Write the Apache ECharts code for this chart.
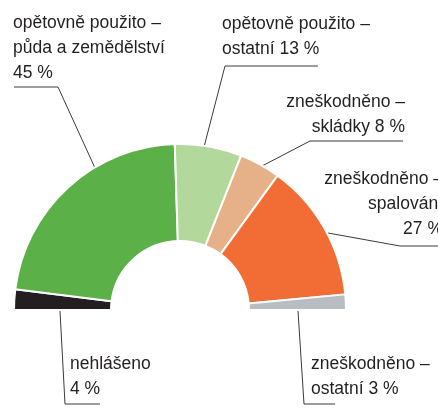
<!DOCTYPE html>
<html>
<head>
<meta charset="utf-8">
<script src="https://cdn.jsdelivr.net/npm/echarts@6/dist/echarts.min.js"></script>
<style>
  html, body { margin: 0; padding: 0; background: #fff; }
  #chart { width: 438px; height: 410px; }
</style>
</head>
<body>
<div id="chart"></div>
<script>
// kategorie a hodnoty (%)
const names = [
  'nehlášeno',
  'opětovně použito –\npůda a zemědělství',
  'opětovně použito –\nostatní',
  'zneškodněno –\nskládky',
  'zneškodněno –\nspalování',
  'zneškodněno –\nostatní',
];
const values = [4, 45, 13, 8, 27, 3];
// oddělovač mezi názvem a procenty
const separators = ['\n', '\n', ' ', ' ', '\n', ' '];
const colors = ['#231f20', '#5bb147', '#b3d89b', '#e6b088', '#f26c36', '#b9bcc0'];

// umístění popisků (jen vzhled)
const labelPos = [
  { x: 70, y: 352, align: 'left', line: [[60, 311], [65, 404], [100, 404]] },
  { x: 13, y: 11, align: 'left', line: [[95, 168], [58, 87], [14, 87]] },
  { x: 222, y: 12, align: 'left', line: [[204, 147], [225, 66], [318, 66]] },
  { x: 405, y: 90, align: 'right', line: [[262, 166], [310, 141], [403, 141]] },
  { x: 443, y: 167, align: 'right', line: [[328, 233], [400, 246], [438, 246]] },
  { x: 311, y: 352, align: 'left', line: [[298, 311], [304, 404], [335, 404]] },
];

const chart = echarts.init(document.getElementById('chart'));
chart.setOption({
  animation: false,
  series: [{
    type: 'pie',
    center: [180, 310],
    radius: [69, 166],
    startAngle: 180,
    endAngle: 0,
    clockwise: true,
    avoidLabelOverlap: false,
    silent: true,
    itemStyle: { borderColor: '#fff', borderWidth: 2 },
    label: {
      show: true,
      position: 'outside',
      color: '#231f20',
      fontFamily: '"Liberation Sans", Arial, sans-serif',
      fontSize: 17.5,
      lineHeight: 25,
      formatter(p) {
        return p.name + separators[p.dataIndex] + p.value + ' %';
      },
    },
    labelLine: {
      show: true,
      lineStyle: { color: '#3a3a3a', width: 1 },
    },
    labelLayout(params) {
      const l = labelPos[params.dataIndex];
      return {
        x: l.x,
        y: l.y,
        align: l.align,
        verticalAlign: 'top',
        labelLinePoints: l.line,
      };
    },
    data: names.map((n, i) => ({
      name: n,
      value: values[i],
      itemStyle: { color: colors[i] },
      label: { align: labelPos[i].align },
    })),
  }],
});
</script>
</body>
</html>
